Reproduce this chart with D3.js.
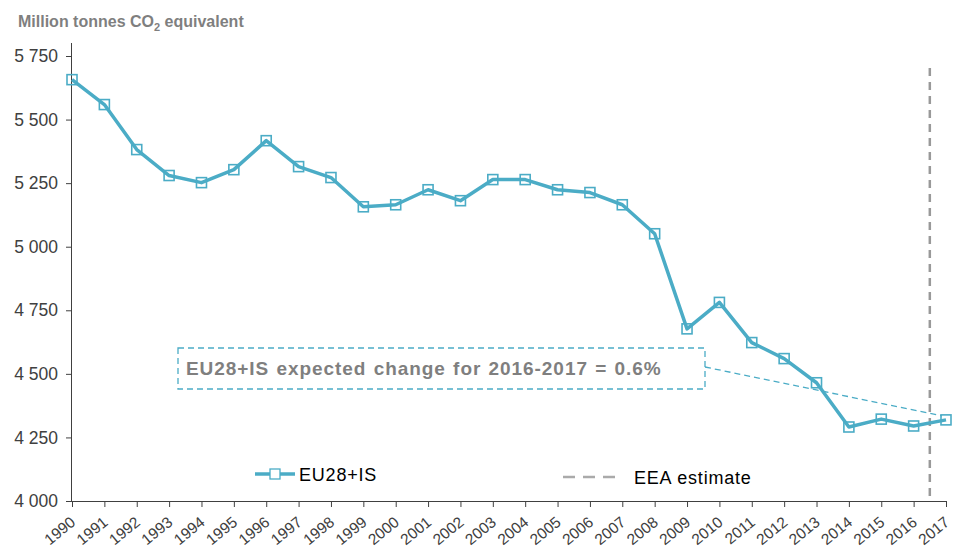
<!DOCTYPE html>
<html>
<head>
<meta charset="utf-8">
<script src="https://cdn.jsdelivr.net/npm/d3@7"></script>
<style>
  body { margin: 0; background: #fff; }
  text { font-family: "Liberation Sans", Arial, sans-serif; }
</style>
</head>
<body>
<div id="chart"></div>
<script>
// values
const years = d3.range(1990, 2018).map(String);
const emissions = [5657, 5559, 5382, 5280, 5252, 5303, 5417, 5315, 5272, 5157,
                   5165, 5224, 5181, 5264, 5264, 5224, 5213, 5165, 5051, 4677,
                   4781, 4623, 4560, 4465, 4291, 4322, 4295, 4319];
const yTicks = [4000, 4250, 4500, 4750, 5000, 5250, 5500, 5750];
const seriesName = "EU28+IS";
const estimateName = "EEA estimate";
const estimateAt = 2016.5;
const noteText = "EU28+IS expected change for 2016-2017 = 0.6%";

const width = 963, height = 549;
const margin = {left: 72, right: 17, top: 56, bottom: 48};
const blue = "#4bacc6";

let svg = d3.select("#chart")
    .append("svg")
    .attr("width", width)
    .attr("height", height);

let x = d3.scalePoint()
    .domain(years)
    .range([margin.left, width - margin.right]);

let y = d3.scaleLinear()
    .domain([4000, 5750])
    .range([height - margin.bottom, margin.top]);

// y axis
let yAxis = svg.append("g")
    .attr("transform", `translate(${margin.left},0)`)
    .call(d3.axisLeft(y).tickValues(yTicks).tickSize(6).tickPadding(8)
        .tickFormat(d => d3.format(",")(d).replace(",", " ")));
yAxis.select(".domain").attr("d", `M-0.5,${y(4000)}V${y(5750) - 13}`).attr("stroke", "#404040");
yAxis.selectAll(".tick line").attr("stroke", "#404040");
yAxis.selectAll(".tick text")
    .attr("fill", "#404040")
    .style("font-size", "17.5px");

// x axis
let xAxis = svg.append("g")
    .attr("transform", `translate(0,${y(4000)})`)
    .call(d3.axisBottom(x).tickSize(6).tickSizeOuter(0));
xAxis.select(".domain").attr("stroke", "#404040");
xAxis.selectAll(".tick line").attr("stroke", "#404040");
xAxis.selectAll(".tick text")
    .attr("fill", "#404040")
    .style("font-size", "15.5px")
    .style("text-anchor", "end")
    .attr("x", 0)
    .attr("y", 0)
    .attr("dy", 0)
    .attr("transform", "translate(4,23) rotate(-39)");

// y title
let title = svg.append("text")
    .attr("x", 18)
    .attr("y", 27)
    .attr("fill", "#7f7f7f")
    .style("font-size", "16px")
    .style("font-weight", "bold");
title.append("tspan").text("Million tonnes CO");
title.append("tspan").text("2").style("font-size", "11px").attr("dy", 4);
title.append("tspan").text(" equivalent").attr("dy", -4);

// EEA estimate line
let xEst = x("2016") + (estimateAt - 2016) * x.step();
svg.append("line")
    .attr("x1", xEst).attr("x2", xEst)
    .attr("y1", 68).attr("y2", y(4000))
    .attr("stroke", "#999")
    .attr("stroke-width", 2.5)
    .attr("stroke-dasharray", "8,6");

// annotation box and pointer
svg.append("rect")
    .attr("x", 178).attr("y", 348)
    .attr("width", 527).attr("height", 41)
    .attr("fill", "none")
    .attr("stroke", blue)
    .attr("stroke-width", 1.3)
    .attr("stroke-dasharray", "6,4");
svg.append("text")
    .attr("x", 186).attr("y", 375)
    .attr("fill", "#7f7f7f")
    .style("font-size", "19px")
    .style("font-weight", "bold")
    .style("letter-spacing", "0.95px")
    .style("word-spacing", "1px")
    .text(noteText);
svg.append("line")
    .attr("x1", 705).attr("y1", 367)
    .attr("x2", x("2017") - 4).attr("y2", y(emissions[27]) - 4)
    .attr("stroke", blue)
    .attr("stroke-width", 1.3)
    .attr("stroke-dasharray", "6,4");

// series
let data = years.map((d, i) => ({year: d, value: emissions[i]}));
svg.append("path")
    .datum(data)
    .attr("fill", "none")
    .attr("stroke", blue)
    .attr("stroke-width", 3.5)
    .attr("stroke-linejoin", "round")
    .attr("d", d3.line().x(d => x(d.year)).y(d => y(d.value)));

svg.selectAll("rect.marker")
    .data(data)
    .enter()
    .append("rect")
    .attr("class", "marker")
    .attr("x", d => x(d.year) - 5)
    .attr("y", d => y(d.value) - 5)
    .attr("width", 10)
    .attr("height", 10)
    .attr("fill", "none")
    .attr("stroke", blue)
    .attr("stroke-width", 1.6);

// legend
let lg = svg.append("g");
lg.append("line")
    .attr("x1", 255).attr("x2", 295)
    .attr("y1", 474).attr("y2", 474)
    .attr("stroke", blue).attr("stroke-width", 3.5);
lg.append("rect")
    .attr("x", 270).attr("y", 469)
    .attr("width", 10).attr("height", 10)
    .attr("fill", "white")
    .attr("stroke", blue).attr("stroke-width", 1.3);
lg.append("text")
    .attr("x", 299).attr("y", 481)
    .attr("fill", "#000")
    .style("font-size", "18px")
    .style("letter-spacing", "0.8px")
    .text(seriesName);
lg.append("line")
    .attr("x1", 563).attr("x2", 615)
    .attr("y1", 477).attr("y2", 477)
    .attr("stroke", "#aaa").attr("stroke-width", 2.5)
    .attr("stroke-dasharray", "12,8");
lg.append("text")
    .attr("x", 634).attr("y", 484)
    .attr("fill", "#000")
    .style("font-size", "18px")
    .style("letter-spacing", "0.8px")
    .text(estimateName);
</script>
</body>
</html>
